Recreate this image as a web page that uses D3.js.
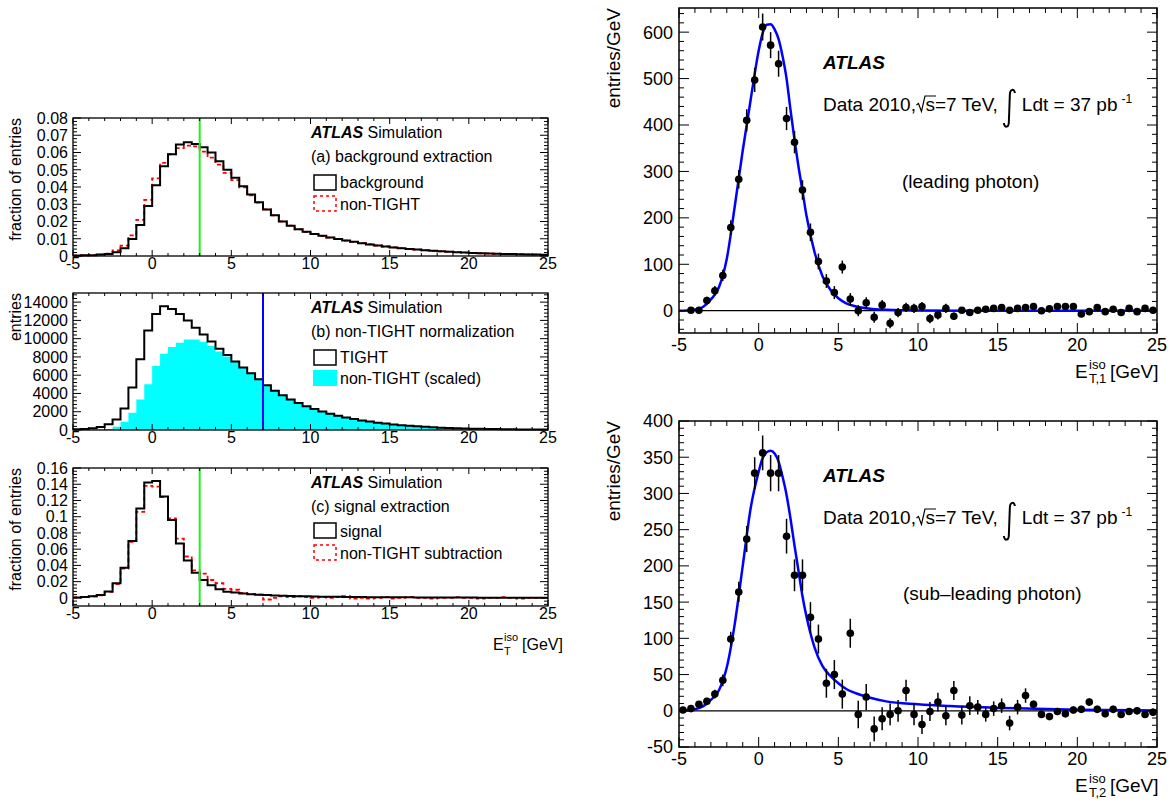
<!DOCTYPE html>
<html><head><meta charset="utf-8">
<script src="https://cdn.jsdelivr.net/npm/d3@7"></script>
<style>
body{margin:0;background:#fff}
svg{display:block}
text{font-family:"Liberation Sans",Arial,Helvetica,sans-serif;fill:#000}
</style>
</head><body>
<svg id="c" width="1172" height="805"></svg>
<script>
// ---------------- DATA ----------------
const xTickLabels = [-5, 0, 5, 10, 15, 20, 25];
const binStart = -5, binWidth = 0.5, binEnd = 25;

// (a) background extraction, fraction of entries per 0.5 GeV bin (-5 .. 25)
const bkgBackground = [0.0003,0.0004,0.0005,0.0008,0.0012,0.0022,0.0045,0.0098,0.0180,0.0290,
  0.0410,0.0520,0.0590,0.0646,0.0660,0.0650,0.0630,0.0600,0.0550,0.0500,
  0.0453,0.0404,0.0357,0.0312,0.0270,0.0236,0.0200,0.0175,0.0155,0.0140,
  0.0128,0.0117,0.0107,0.0098,0.0090,0.0082,0.0074,0.0067,0.0061,0.0055,
  0.0050,0.0045,0.0041,0.0037,0.0033,0.0030,0.0027,0.0024,0.0022,0.0020,
  0.0018,0.0016,0.0014,0.0013,0.0012,0.0011,0.0010,0.0009,0.0008,0.0007];
const bkgNonTight = [0.0002,0.0003,0.0005,0.0008,0.0013,0.0032,0.0060,0.0120,0.0210,0.0325,
  0.0450,0.0540,0.0590,0.0625,0.0640,0.0635,0.0605,0.0570,0.0530,0.0482,
  0.0440,0.0398,0.0352,0.0310,0.0270,0.0235,0.0201,0.0176,0.0154,0.0139,
  0.0128,0.0116,0.0107,0.0098,0.0089,0.0082,0.0075,0.0068,0.0061,0.0055,
  0.0050,0.0046,0.0041,0.0037,0.0033,0.0030,0.0027,0.0025,0.0022,0.0020,
  0.0018,0.0016,0.0015,0.0013,0.0012,0.0011,0.0010,0.0009,0.0008,0.0007];
const bkgYTicks = [0, 0.01, 0.02, 0.03, 0.04, 0.05, 0.06, 0.07, 0.08];

// (b) non-TIGHT normalization, entries
const normTight = [80,120,180,330,620,1150,2350,4650,7750,10900,
  12700,13550,13250,12700,12000,11200,10450,9700,8900,8200,
  7500,6850,6200,5550,4900,4300,3800,3350,2950,2600,
  2300,2020,1780,1560,1370,1200,1050,920,800,700,
  610,530,460,400,350,300,260,225,195,170,
  150,130,112,97,85,74,64,56,49,43];
const normNonTightScaled = [0,10,20,50,120,350,900,1900,3350,5000,
  7000,8350,9100,9550,9900,9900,9650,9200,8600,8050,
  7450,6800,6150,5500,4900,4300,3800,3350,2950,2600,
  2300,2020,1780,1560,1370,1200,1050,920,800,700,
  610,530,460,400,350,300,260,225,195,170,
  150,130,112,97,85,74,64,56,49,43];
const normYTicks = [0, 2000, 4000, 6000, 8000, 10000, 12000, 14000];

// (c) signal extraction, fraction of entries
const sigSignal = [0.0005,0.0010,0.0020,0.0035,0.0080,0.0180,0.0370,0.0700,0.1100,0.1420,
  0.1440,0.1250,0.0960,0.0670,0.0460,0.0310,0.0220,0.0155,0.0105,0.0075,
  0.0065,0.0055,0.0045,0.0040,0.0035,0.0030,0.0027,0.0024,0.0021,0.0019,
  0.0017,0.0015,0.0014,0.0013,0.0012,0.0011,0.0010,0.0009,0.0009,0.0008,
  0.0008,0.0007,0.0007,0.0006,0.0006,0.0005,0.0005,0.0005,0.0004,0.0004,
  0.0004,0.0003,0.0003,0.0003,0.0003,0.0002,0.0002,0.0002,0.0002,0.0002];
const sigNonTightSub = [0.0005,0.0010,0.0020,0.0030,0.0075,0.0170,0.0360,0.0690,0.1060,0.1380,
  0.1370,0.1240,0.0980,0.0730,0.0510,0.0340,0.0300,0.0220,0.0180,0.0110,
  0.0100,0.0060,0.0050,0.0040,-0.0020,0.0000,0.0020,0.0010,0.0020,0.0010,
  0.0000,0.0010,0.0000,0.0010,0.0020,-0.0010,0.0000,-0.0010,0.0000,0.0010,
  -0.0010,0.0000,0.0010,0.0000,0.0000,-0.0010,0.0000,0.0000,0.0010,0.0000,
  0.0000,-0.0010,0.0000,0.0000,0.0010,0.0000,-0.0010,0.0000,0.0000,0.0000];
const sigYTicks = [0, 0.02, 0.04, 0.06, 0.08, 0.1, 0.12, 0.14, 0.16];

// leading photon data (bin centres from -4.25 to 24.75)
const leadY = [1,1,22,43,76,179,283,410,497,611,572,532,414,363,260,169,106,64,39,94,25,0,17,-14,12,-27,
  -4,7,5,9,-17,-9,5,-12,1,-4,1,3,5,7,1,5,7,9,0,4,9,9,9,-7,-2,7,-2,3,-4,5,-2,5,1];
const leadErr = [3,3,8,10,12,16,20,24,26,29,28,28,25,24,21,19,17,15,14,14,13,12,12,12,11,11,
  10,10,10,10,10,10,10,8,6,6,6,6,6,6,6,6,6,6,6,6,6,6,6,6,6,6,6,6,6,6,6,6,6];
const leadFitX = [-5,-4.5,-4,-3.5,-3,-2.5,-2,-1.5,-1,-0.5,0,0.25,0.5,0.75,1,1.25,1.5,1.75,2,2.25,2.5,2.75,3,3.5,4,4.5,5,5.5,6,7,8,10,15,25];
const leadFitY = [0,0.5,2,8,24,50,112,225,345,455,560,598,616,617,606,585,548,500,432,368,310,258,205,127,75,45,27,16,10,4,2,0.5,0,0];
const leadYTicks = [0, 100, 200, 300, 400, 500, 600];

// sub-leading photon data (bin centres from -4.75 to 24.75)
const subY = [1,3,9,13,23,42,99,164,237,328,356,328,328,241,187,187,129,99,38,50,23,107,-5,19,-25,-11,-5,
  0,28,-5,-19,-1,12,-7,28,-6,7,5,-5,3,7,-17,5,21,9,-5,-8,-1,-4,1,2,12,2,-4,2,-5,-1,0,-5,-2];
const subErr = [2,3,4,5,6,8,10,14,18,22,24,25,25,24,22,22,21,20,20,20,20,20,19,18,17,16,15,
  15,15,15,13,13,13,13,13,13,13,10,10,10,10,10,10,10,5,5,5,5,5,5,5,5,5,5,5,5,5,5,5,5];
const subFitX = [-5,-4.5,-4,-3.5,-3,-2.5,-2,-1.5,-1,-0.5,0,0.25,0.5,0.75,1,1.25,1.5,1.75,2,2.25,2.5,2.75,3,3.25,3.5,4,4.5,5,5.5,6,7,8,10,12,15,20,25];
const subFitY = [0,0.5,2,6,15,28,60,120,200,280,330,349,357,359,355,344,323,298,265,228,193,158,130,107,88,62,48,38,30,25,18,13,9,6.5,4,1.5,0.5];
const subYTicks = [-50, 0, 50, 100, 150, 200, 250, 300, 350, 400];

// ---------------- DRAWING ----------------
const svg = d3.select('#c');
const binEdges = d3.range(binStart, binEnd - 1e-9, binWidth);
const FONT = '"Liberation Sans",Arial,Helvetica,sans-serif';

function stepPoints(vals) {
  const pts = binEdges.map((e, i) => [e, vals[i]]);
  pts.push([binEnd, vals[vals.length - 1]]);
  return pts;
}

function minorVals(domain, step) {
  const out = [];
  const start = Math.ceil(domain[0] / step - 1e-9) * step;
  for (let v = start; v <= domain[1] + 1e-9; v += step) out.push(+v.toFixed(6));
  return out;
}

function drawFrame(g, x, y, cfg) {
  const [x0, x1] = x.range();
  const [yb, yt] = y.range();
  const t = g.append('g');
  const isMaj = (arr, v) => arr.some(m => Math.abs(m - v) < 1e-9);
  // x ticks (bottom & top)
  minorVals(x.domain(), cfg.xMinor).forEach(v => {
    const L = isMaj(xTickLabels, v) ? cfg.xMajLen : cfg.xMinLen;
    const px = x(v);
    t.append('line').attr('x1', px).attr('x2', px).attr('y1', yb).attr('y2', yb - L);
    t.append('line').attr('x1', px).attr('x2', px).attr('y1', yt).attr('y2', yt + L);
  });
  minorVals(y.domain(), cfg.yMinor).forEach(v => {
    const L = isMaj(cfg.yTicks, v) ? cfg.yMajLen : cfg.yMinLen;
    const py = y(v);
    t.append('line').attr('x1', x0).attr('x2', x0 + L).attr('y1', py).attr('y2', py);
    t.append('line').attr('x1', x1).attr('x2', x1 - L).attr('y1', py).attr('y2', py);
  });
  t.selectAll('line').attr('stroke', '#000').attr('stroke-width', 1);
  g.append('rect').attr('x', x0).attr('y', yt).attr('width', x1 - x0).attr('height', yb - yt)
    .attr('fill', 'none').attr('stroke', '#000').attr('stroke-width', cfg.fw);
  // labels
  xTickLabels.forEach(v => {
    g.append('text').attr('x', x(v)).attr('y', yb + cfg.xLabOff).attr('text-anchor', 'middle')
      .style('font-size', cfg.fs + 'px').text(v);
  });
  cfg.yTicks.forEach(v => {
    g.append('text').attr('x', x0 - cfg.yLabOff).attr('y', y(v)).attr('dy', '0.36em').attr('text-anchor', 'end')
      .style('font-size', cfg.fs + 'px').text(v);
  });
}

function ytitle(x, yEnd, str, fs) {
  svg.append('text').attr('transform', `translate(${x},${yEnd}) rotate(-90)`).attr('text-anchor', 'end')
    .style('font-size', fs + 'px').text(str);
}

function atlasLabel(g, x, y, fs, extra) {
  const t = g.append('text').attr('x', x).attr('y', y).style('font-size', fs + 'px');
  t.append('tspan').style('font-weight', 'bold').style('font-style', 'italic').text('ATLAS');
  if (extra) t.append('tspan').text('\u00a0' + extra);
}

// ---------- left panels ----------
const LX = [73, 548];
const leftCfg = { xMinor: 1, xMajLen: 6, xMinLen: 3, yMajLen: 8, yMinLen: 4, fw: 1.3, fs: 16, xLabOff: 13, yLabOff: 5 };

// (a)
{
  const g = svg.append('g');
  const x = d3.scaleLinear().domain([binStart, binEnd]).range(LX);
  const y = d3.scaleLinear().domain([0, 0.08]).range([256, 118]);
  const line = d3.line().x(d => x(d[0])).y(d => y(d[1])).curve(d3.curveStepAfter);
  g.append('path').attr('d', line(stepPoints(bkgNonTight))).attr('fill', 'none').attr('stroke', '#ff0000')
    .attr('stroke-width', 1.8).attr('stroke-dasharray', '4,3');
  g.append('path').attr('d', line(stepPoints(bkgBackground))).attr('fill', 'none').attr('stroke', '#000').attr('stroke-width', 2);
  g.append('line').attr('x1', x(3)).attr('x2', x(3)).attr('y1', y(0)).attr('y2', 118).attr('stroke', '#22ee22').attr('stroke-width', 2);
  drawFrame(g, x, y, Object.assign({}, leftCfg, { yTicks: bkgYTicks, yMinor: 0.002 }));
  atlasLabel(g, 311, 138, 16, 'Simulation');
  g.append('text').attr('x', 311).attr('y', 162).style('font-size', '16px').text('(a) background extraction');
  g.append('rect').attr('x', 314).attr('y', 175).attr('width', 22).attr('height', 15).attr('fill', 'none').attr('stroke', '#000').attr('stroke-width', 1.5);
  g.append('text').attr('x', 340).attr('y', 188).style('font-size', '16px').text('background');
  g.append('rect').attr('x', 314).attr('y', 196).attr('width', 22).attr('height', 15).attr('fill', 'none').attr('stroke', '#ff0000').attr('stroke-width', 1.5).attr('stroke-dasharray', '3,3');
  g.append('text').attr('x', 340).attr('y', 210).style('font-size', '16px').text('non-TIGHT');
  ytitle(21, 118, 'fraction of entries', 16);
}

// (b)
{
  const g = svg.append('g');
  const x = d3.scaleLinear().domain([binStart, binEnd]).range(LX);
  const y = d3.scaleLinear().domain([0, 15000]).range([430, 293]);
  const area = d3.area().x(d => x(d[0])).y0(y(0)).y1(d => y(d[1])).curve(d3.curveStepAfter);
  const line = d3.line().x(d => x(d[0])).y(d => y(d[1])).curve(d3.curveStepAfter);
  g.append('path').attr('d', area(stepPoints(normNonTightScaled))).attr('fill', '#00ffff');
  g.append('path').attr('d', line(stepPoints(normTight))).attr('fill', 'none').attr('stroke', '#000').attr('stroke-width', 2);
  g.append('line').attr('x1', x(7)).attr('x2', x(7)).attr('y1', y(0)).attr('y2', 293).attr('stroke', '#0000ff').attr('stroke-width', 2);
  drawFrame(g, x, y, Object.assign({}, leftCfg, { yTicks: normYTicks, yMinor: 400 }));
  atlasLabel(g, 311, 313, 16, 'Simulation');
  g.append('text').attr('x', 311).attr('y', 337).style('font-size', '16px').text('(b) non-TIGHT normalization');
  g.append('rect').attr('x', 314).attr('y', 350).attr('width', 22).attr('height', 15).attr('fill', 'none').attr('stroke', '#000').attr('stroke-width', 1.5);
  g.append('text').attr('x', 340).attr('y', 363).style('font-size', '16px').text('TIGHT');
  g.append('rect').attr('x', 313).attr('y', 370).attr('width', 24).attr('height', 16).attr('fill', '#00ffff');
  g.append('text').attr('x', 340).attr('y', 384).style('font-size', '16px').text('non-TIGHT (scaled)');
  ytitle(21, 293, 'entries', 16);
}

// (c)
{
  const g = svg.append('g');
  const x = d3.scaleLinear().domain([binStart, binEnd]).range(LX);
  const y = d3.scaleLinear().domain([-0.01, 0.16]).range([606, 468]);
  const line = d3.line().x(d => x(d[0])).y(d => y(d[1])).curve(d3.curveStepAfter);
  g.append('path').attr('d', line(stepPoints(sigNonTightSub))).attr('fill', 'none').attr('stroke', '#ff0000')
    .attr('stroke-width', 1.8).attr('stroke-dasharray', '4,3');
  g.append('path').attr('d', line(stepPoints(sigSignal))).attr('fill', 'none').attr('stroke', '#000').attr('stroke-width', 2);
  g.append('line').attr('x1', x(3)).attr('x2', x(3)).attr('y1', 606).attr('y2', 468).attr('stroke', '#22ee22').attr('stroke-width', 2);
  drawFrame(g, x, y, Object.assign({}, leftCfg, { yTicks: sigYTicks, yMinor: 0.004 }));
  atlasLabel(g, 311, 488, 16, 'Simulation');
  g.append('text').attr('x', 311).attr('y', 512).style('font-size', '16px').text('(c) signal extraction');
  g.append('rect').attr('x', 314).attr('y', 523).attr('width', 22).attr('height', 15).attr('fill', 'none').attr('stroke', '#000').attr('stroke-width', 1.5);
  g.append('text').attr('x', 340).attr('y', 537).style('font-size', '16px').text('signal');
  g.append('rect').attr('x', 314).attr('y', 545).attr('width', 22).attr('height', 15).attr('fill', 'none').attr('stroke', '#ff0000').attr('stroke-width', 1.5).attr('stroke-dasharray', '3,3');
  g.append('text').attr('x', 340).attr('y', 559).style('font-size', '16px').text('non-TIGHT subtraction');
  ytitle(21, 468, 'fraction of entries', 16);
  // x title
  g.append('text').attr('x', 493).attr('y', 650).style('font-size', '16px').text('E');
  g.append('text').attr('x', 504).attr('y', 641).style('font-size', '11px').text('iso');
  g.append('text').attr('x', 504).attr('y', 655).style('font-size', '11px').text('T');
  g.append('text').attr('x', 522).attr('y', 650).style('font-size', '16px').text('[GeV]');
}

// ---------- right panels ----------
const RX = [679, 1157];
const rightCfg = { xMinor: 1, xMajLen: 10, xMinLen: 5, yMajLen: 10, yMinLen: 5, fw: 1.5, fs: 18, xLabOff: 18, yLabOff: 6 };

function dataPanel(frameY, yDomain, yTicks, yMinor, ys, errs, firstX, fitX, fitY, textY, photonStr, photonX, subIdx) {
  const g = svg.append('g');
  const x = d3.scaleLinear().domain([binStart, binEnd]).range(RX);
  const y = d3.scaleLinear().domain(yDomain).range(frameY);
  const xs = ys.map((_, i) => firstX + i * binWidth);
  g.append('line').attr('x1', x(binStart)).attr('x2', x(binEnd)).attr('y1', y(0)).attr('y2', y(0)).attr('stroke', '#000').attr('stroke-width', 1.3);
  const fit = d3.line().x((d, i) => x(fitX[i])).y(d => y(d)).curve(d3.curveMonotoneX);
  g.append('path').attr('d', fit(fitY)).attr('fill', 'none').attr('stroke', '#0000ff').attr('stroke-width', 2.5);
  g.selectAll('.eb').data(ys).enter().append('line')
    .attr('x1', (d, i) => x(xs[i])).attr('x2', (d, i) => x(xs[i]))
    .attr('y1', (d, i) => y(d - errs[i])).attr('y2', (d, i) => y(d + errs[i]))
    .attr('stroke', '#000').attr('stroke-width', 1.5);
  g.selectAll('.pt').data(ys).enter().append('circle')
    .attr('cx', (d, i) => x(xs[i])).attr('cy', d => y(d)).attr('r', 3.8).attr('fill', '#000');
  drawFrame(g, x, y, Object.assign({}, rightCfg, { yTicks: yTicks, yMinor: yMinor }));

  // texts
  atlasLabel(g, 823, textY[0], 19, null);
  const by = textY[1];
  let cx = 823;
  const t1 = g.append('text').attr('x', cx).attr('y', by).style('font-size', '19px').text('Data 2010,');
  cx += t1.node().getComputedTextLength();
  // radical
  g.append('path').attr('d', `M${cx + 0.5},${by - 6} L${cx + 2.5},${by - 7.5} L${cx + 5.5},${by + 0.5} L${cx + 9},${by - 15} L${cx + 20},${by - 15}`)
    .attr('fill', 'none').attr('stroke', '#000').attr('stroke-width', 1.2);
  cx += 9.5;
  const t2 = g.append('text').attr('x', cx).attr('y', by).style('font-size', '19px').text('s=7 TeV,');
  cx += t2.node().getComputedTextLength() + 5;
  // integral sign
  g.append('path').attr('d', `M${cx + 12},${by - 18} C${cx + 11.5},${by - 23} ${cx + 7},${by - 22} ${cx + 7},${by - 16} L${cx + 6},${by + 11} C${cx + 6},${by + 17} ${cx + 1.5},${by + 17} ${cx + 1},${by + 12}`)
    .attr('fill', 'none').attr('stroke', '#000').attr('stroke-width', 2);
  cx += 19;
  const t3 = g.append('text').attr('x', cx).attr('y', by).style('font-size', '19px').text('Ldt = 37 pb');
  cx += t3.node().getComputedTextLength() + 4;
  g.append('text').attr('x', cx).attr('y', by - 8).style('font-size', '12px').text('-1');
  g.append('text').attr('x', photonX).attr('y', textY[2]).style('font-size', '19px').text(photonStr);

  // axis titles
  ytitle(620, frameY[1], 'entries/GeV', 19);
  const ty = frameY[0] + 45;
  g.append('text').attr('x', 1075).attr('y', ty).style('font-size', '19px').text('E');
  g.append('text').attr('x', 1089).attr('y', ty - 9).style('font-size', '13px').text('iso');
  g.append('text').attr('x', 1089).attr('y', ty + 5).style('font-size', '13px').text('T,' + subIdx);
  g.append('text').attr('x', 1110).attr('y', ty).style('font-size', '19px').text('[GeV]');
}

dataPanel([333, 8], [-48, 652], leadYTicks, 20, leadY, leadErr, -4.25, leadFitX, leadFitY, [69, 111, 188], '(leading photon)', 902, 1);
dataPanel([747, 421], [-50, 400], subYTicks, 10, subY, subErr, -4.75, subFitX, subFitY, [482, 524, 600], '(sub\u2013leading photon)', 903, 2);
</script>
</body></html>
